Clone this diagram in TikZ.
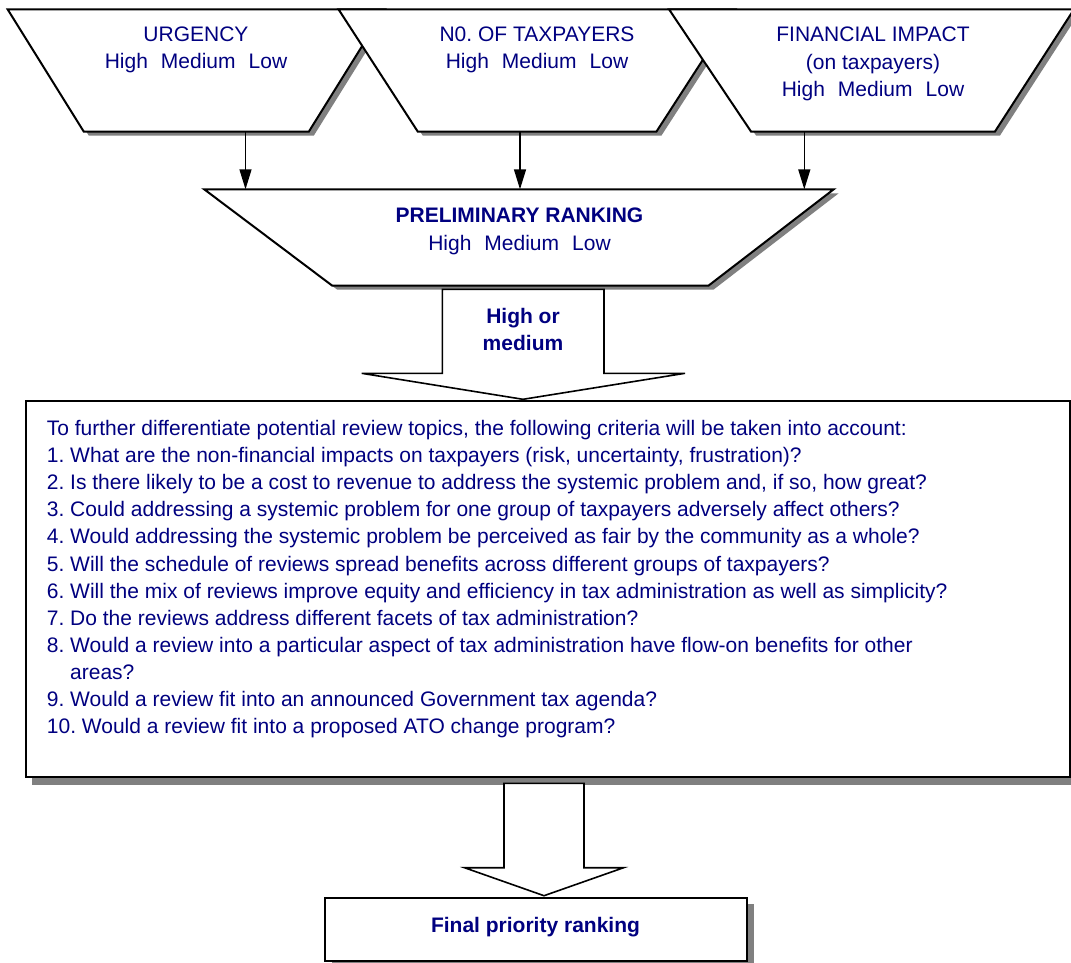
\documentclass[tikz,border=0pt]{standalone}
\usepackage{fontspec}
\setmainfont{Liberation Sans}
\usetikzlibrary{arrows.meta}
\definecolor{navy}{RGB}{0,0,128}
\definecolor{shade}{RGB}{128,128,128}
\newcommand{\hml}{High\hspace{13pt}Medium\hspace{13pt}Low}
\frenchspacing
\begin{document}
\begin{tikzpicture}[x=1pt,y=-1pt,
  lbl/.style={text=navy, font=\fontsize{21}{25}\selectfont, inner sep=0pt, anchor=base},
  boldlbl/.style={lbl, font=\fontsize{21}{25}\selectfont\bfseries},
  bodyl/.style={lbl, anchor=base west},
  shapeline/.style={draw=black, line width=2pt, fill=white, line join=miter},
  thinshape/.style={draw=black, line width=1.6pt, fill=white, line join=miter},
  shadowfill/.style={fill=shade, draw=none},
  conn/.style={draw=black, line width=1.4pt, -{Triangle[length=20pt,width=12pt]}},
]
\clip (0,0) rectangle (1071,962);
\fill[white] (0,0) rectangle (1071,962);

% --- top trapezoids ---
\fill[shadowfill, shift={(5,4)}] (7.6,9.3) -- (385,9.3) -- (308.9,131.5) -- (83.7,131.5) -- cycle;
\path[shapeline] (7.6,9.3) -- (385,9.3) -- (308.9,131.5) -- (83.7,131.5) -- cycle;
\fill[shadowfill, shift={(5,4)}] (338.5,9.3) -- (735.5,9.3) -- (656.5,131.5) -- (417.7,131.5) -- cycle;
\path[shapeline] (338.5,9.3) -- (735.5,9.3) -- (656.5,131.5) -- (417.7,131.5) -- cycle;
\fill[shadowfill, shift={(5,4)}] (669,9.3) -- (1074,9.3) -- (995,131.5) -- (751,131.5) -- cycle;
\path[shapeline] (669,9.3) -- (1074,9.3) -- (995,131.5) -- (751,131.5) -- cycle;

% --- connectors ---
\coordinate (u1) at (245.5,131.5); \coordinate (p1) at (245.5,189.3);
\coordinate (u2) at (520,131.5);   \coordinate (p2) at (520,189.3);
\coordinate (u3) at (804.3,131.5); \coordinate (p3) at (804.3,189.3);
\draw[conn] (u1) -- (p1);
\draw[conn] (u2) -- (p2);
\draw[conn] (u3) -- (p3);

% --- preliminary ranking ---
\fill[shadowfill, shift={(5,4)}] (204.2,189.3) -- (833.7,189.3) -- (708.4,285.7) -- (332.3,285.7) -- cycle;
\path[shapeline] (204.2,189.3) -- (833.7,189.3) -- (708.4,285.7) -- (332.3,285.7) -- cycle;

% --- block arrow 1 ---
\path[thinshape] (442.3,289.3) -- (604,289.3) -- (604,373.3) -- (685,373.3) -- (523,399.3) -- (361.7,373.3) -- (442.3,373.3) -- cycle;

% --- criteria box ---
\fill[shadowfill] (31.7,409) rectangle (1075.5,784.7);
\path[shapeline] (25.7,401) rectangle (1069.5,776.7);

% --- block arrow 2 ---
\path[thinshape] (504,783.3) -- (584,783.3) -- (584,867.7) -- (623.6,867.7) -- (544,895.7) -- (464.5,867.7) -- (504,867.7) -- cycle;

% --- final box ---
\fill[shadowfill] (331.5,903.7) rectangle (753.6,970);
\path[shapeline] (324.5,897.7) rectangle (746.6,961);

% --- texts ---
\node[lbl] (t1a) at (196,41) {URGENCY};
\node[lbl] (t1b) at (196,68.5) {\hml};
\node[lbl] (t2a) at (537,41) {N0. OF TAXPAYERS};
\node[lbl] (t2b) at (537,68.5) {\hml};
\node[lbl] (t3a) at (873,41) {FINANCIAL IMPACT};
\node[lbl] (t3b) at (873,69) {(on taxpayers)};
\node[lbl] (t3c) at (873,96.7) {\hml};
\node[boldlbl] (pa) at (519.5,222.7) {PRELIMINARY RANKING};
\node[lbl] (pb) at (519.5,250) {\hml};
\node[boldlbl] (ha) at (523,323) {High or};
\node[boldlbl] (hb) at (523,350) {medium};

\node[bodyl] (l0) at (46.7,435.5) {To further differentiate potential review topics, the following criteria will be taken into account:};
\node[bodyl] (l1) at (46.7,462.6) {1. What are the non-financial impacts on taxpayers (risk, uncertainty, frustration)?};
\node[bodyl] (l2) at (46.7,489.7) {2. Is there likely to be a cost to revenue to address the systemic problem and, if so, how great?};
\node[bodyl] (l3) at (46.7,516.8) {3. Could addressing a systemic problem for one group of taxpayers adversely affect others?};
\node[bodyl] (l4) at (46.7,543.9) {4. Would addressing the systemic problem be perceived as fair by the community as a whole?};
\node[bodyl] (l5) at (46.7,571.0) {5. Will the schedule of reviews spread benefits across different groups of taxpayers?};
\node[bodyl] (l6) at (46.7,598.1) {6. Will the mix of reviews improve equity and efficiency in tax administration as well as simplicity?};
\node[bodyl] (l7) at (46.7,625.2) {7. Do the reviews address different facets of tax administration?};
\node[bodyl] (l8) at (46.7,652.3) {8. Would a review into a particular aspect of tax administration have flow-on benefits for other};
\node[bodyl] (l8b) at (70,679.4) {areas?};
\node[bodyl] (l9) at (46.7,706.5) {9. Would a review fit into an announced Government tax agenda?};
\node[bodyl] (l10) at (46.7,733.6) {10. Would a review fit into a proposed ATO change program?};

\node[boldlbl] (fin) at (535.5,932.5) {Final priority ranking};
\end{tikzpicture}
\end{document}
